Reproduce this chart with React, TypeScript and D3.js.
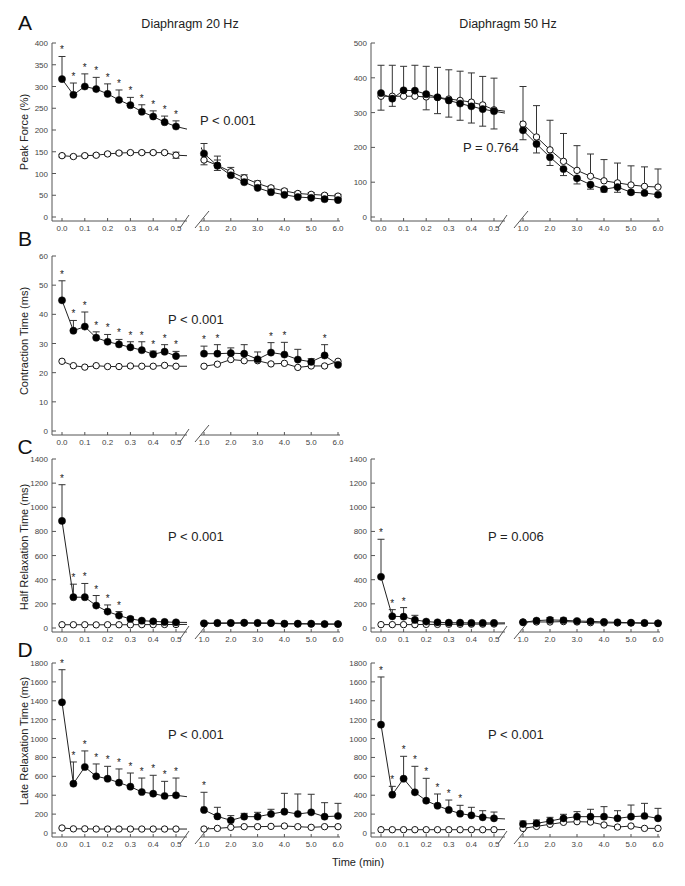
import { useEffect, useRef } from 'react';
import * as d3 from 'd3';

// time points (min): early phase then late phase
const timesEarly = [0, 0.05, 0.1, 0.15, 0.2, 0.25, 0.3, 0.35, 0.4, 0.45, 0.5];
const timesLate = [1, 1.5, 2, 2.5, 3, 3.5, 4, 4.5, 5, 5.5, 6];
const times = [...timesEarly, ...timesLate];

const earlyTicks = [0, 0.1, 0.2, 0.3, 0.4, 0.5];
const lateTicks = [1, 2, 3, 4, 5, 6];

// A - Peak force, 20 Hz
const filledA20 = [317, 281, 300, 294, 283, 269, 257, 242, 231, 218, 208, 146, 118, 96, 80, 67, 57, 51, 46, 44, 41, 39];
const filledErrA20 = [52, 27, 29, 27, 23, 23, 18, 16, 13, 14, 13, 23, 22, 5, 4, 4, 3, 3, 3, 3, 3, 3];
const openA20 = [141, 139, 141, 142, 145, 147, 148, 148, 148, 148, 142, 131, 119, 104, 90, 77, 67, 60, 54, 52, 50, 48];
const openErrA20 = [3, 3, 3, 3, 3, 3, 3, 3, 3, 3, 7, 11, 12, 10, 7, 6, 4, 4, 4, 4, 4, 4];
const starsA20 = [0, 0.05, 0.1, 0.15, 0.2, 0.25, 0.3, 0.35, 0.4, 0.45, 0.5];

// A - Peak force, 50 Hz
const filledA50 = [356, 340, 364, 363, 353, 344, 335, 326, 318, 310, 304, 249, 210, 172, 138, 111, 93, 80, 86, 71, 69, 64];
const filledErrA50 = [49, 22, 15, 15, 45, 47, 48, 48, 48, 49, 51, 27, 26, 24, 19, 16, 13, 8, 15, 5, 5, 5];
const openA50 = [347, 347, 347, 347, 345, 344, 339, 335, 330, 322, 308, 267, 230, 193, 160, 134, 117, 104, 98, 92, 88, 86];
const openErrA50 = [89, 89, 86, 89, 88, 86, 84, 84, 84, 82, 91, 108, 90, 85, 80, 71, 64, 61, 57, 55, 56, 52];

// B - Contraction time, 20 Hz
const filledB = [44.8, 34.4, 35.8, 32.0, 30.6, 29.7, 28.7, 27.7, 26.3, 27.2, 25.7, 26.5, 26.5, 26.7, 26.5, 24.6, 26.9, 26.2, 24.5, 23.7, 25.9, 22.7];
const filledErrB = [6.7, 3.5, 5.0, 2.0, 2.5, 1.7, 1.9, 2.9, 1.1, 2.4, 1.6, 2.6, 3.1, 1.8, 3.1, 2.5, 3.4, 4.2, 3.5, 1.1, 3.7, 0.5];
const openB = [23.9, 22.4, 21.9, 22.4, 22.1, 22.1, 22.3, 22.2, 22.2, 22.5, 22.2, 22.2, 22.9, 24.5, 24.1, 24.1, 23.0, 23.2, 21.8, 22.3, 22.3, 23.9];
const starsB = [0, 0.05, 0.1, 0.15, 0.2, 0.25, 0.3, 0.35, 0.4, 0.45, 0.5, 1, 1.5, 3.5, 4, 5.5];

// C - Half relaxation time
const filledC20 = [887, 255, 255, 186, 136, 103, 75, 61, 55, 50, 47, 39, 42, 42, 44, 42, 42, 36, 36, 36, 33, 33];
const filledErrC20 = [300, 108, 114, 83, 55, 33, 16, 8, 6, 5, 5, 5, 5, 5, 5, 5, 5, 4, 4, 4, 4, 4];
const openC20 = [27, 27, 27, 26, 27, 27, 27, 28, 28, 29, 29, 36, 38, 39, 40, 39, 38, 34, 34, 33, 32, 32];
const starsC20 = [0, 0.05, 0.1, 0.15, 0.2, 0.25];

const filledC50 = [424, 97, 94, 67, 53, 47, 44, 44, 42, 42, 42, 47, 61, 67, 64, 58, 55, 50, 47, 44, 42, 39];
const filledErrC50 = [311, 55, 75, 38, 10, 8, 6, 6, 6, 6, 6, 8, 12, 20, 18, 12, 14, 10, 6, 6, 5, 5];
const openC50 = [28, 28, 28, 28, 30, 30, 31, 31, 32, 32, 33, 50, 50, 50, 53, 50, 44, 42, 42, 42, 39, 39];
const starsC50 = [0, 0.05, 0.1];

// D - Late relaxation time
const filledD20 = [1384, 522, 699, 600, 575, 533, 491, 434, 416, 392, 399, 244, 176, 134, 173, 173, 201, 226, 201, 219, 173, 180];
const filledErrD20 = [345, 230, 170, 131, 131, 145, 144, 148, 195, 155, 183, 187, 96, 50, 35, 46, 50, 194, 212, 191, 148, 134];
const openD20 = [53, 44, 44, 42, 42, 42, 42, 42, 42, 42, 42, 42, 49, 60, 67, 67, 70, 74, 67, 60, 67, 67];
const starsD20 = [0, 0.05, 0.1, 0.15, 0.2, 0.25, 0.3, 0.35, 0.4, 0.45, 0.5, 1];

const filledD50 = [1147, 406, 575, 431, 342, 289, 244, 205, 187, 166, 155, 95, 102, 127, 155, 173, 173, 173, 155, 173, 180, 155];
const filledErrD50 = [505, 88, 237, 275, 237, 124, 105, 88, 85, 70, 67, 32, 36, 39, 43, 53, 78, 106, 81, 123, 134, 106];
const openD50 = [35, 35, 35, 35, 35, 35, 35, 35, 35, 35, 35, 49, 70, 92, 113, 120, 116, 85, 63, 74, 49, 49];
const starsD50 = [0, 0.05, 0.1, 0.15, 0.2, 0.25, 0.3, 0.35];

const W = 685;
const H = 886;
const FONT = '"Liberation Sans", Arial, Helvetica, sans-serif';

// x layout of the two columns (axis, early segment, late segment)
const cols = [
  { axisX: 52, e0: 62, e5: 176, eEnd: 187, l1: 204, l6: 338, lStart: 201, lEnd: 340 },
  { axisX: 371, e0: 381, e5: 494, eEnd: 505, l1: 523, l6: 658, lStart: 520, lEnd: 660 },
];

type Dir = 'up' | 'down' | 'both';
interface Series { mean: number[]; err?: number[]; dir?: Dir; open: boolean }
interface Panel {
  id: string;
  col: number;
  y0: number;
  yTop: number;
  yMax: number;
  yStep: number;
  pText: string;
  pX: number;
  pY: number;
  series: Series[];
  stars: number[];
}

const panels: Panel[] = [
  { id: 'a20', col: 0, y0: 217, yTop: 43, yMax: 400, yStep: 50, pText: 'P < 0.001', pX: 200, pY: 125,
    series: [{ mean: openA20, err: openErrA20, dir: 'both', open: true }, { mean: filledA20, err: filledErrA20, dir: 'up', open: false }],
    stars: starsA20 },
  { id: 'a50', col: 1, y0: 217, yTop: 43, yMax: 500, yStep: 100, pText: 'P = 0.764', pX: 463, pY: 152,
    series: [{ mean: openA50, err: openErrA50, dir: 'up', open: true }, { mean: filledA50, err: filledErrA50, dir: 'down', open: false }],
    stars: [] },
  { id: 'b20', col: 0, y0: 431, yTop: 256, yMax: 60, yStep: 10, pText: 'P < 0.001', pX: 168, pY: 324,
    series: [{ mean: openB, open: true }, { mean: filledB, err: filledErrB, dir: 'up', open: false }],
    stars: starsB },
  { id: 'c20', col: 0, y0: 628, yTop: 459, yMax: 1400, yStep: 200, pText: 'P < 0.001', pX: 168, pY: 541,
    series: [{ mean: openC20, open: true }, { mean: filledC20, err: filledErrC20, dir: 'up', open: false }],
    stars: starsC20 },
  { id: 'c50', col: 1, y0: 628, yTop: 459, yMax: 1400, yStep: 200, pText: 'P = 0.006', pX: 488, pY: 541,
    series: [{ mean: openC50, open: true }, { mean: filledC50, err: filledErrC50, dir: 'up', open: false }],
    stars: starsC50 },
  { id: 'd20', col: 0, y0: 833, yTop: 663, yMax: 1800, yStep: 200, pText: 'P < 0.001', pX: 168, pY: 739,
    series: [{ mean: openD20, open: true }, { mean: filledD20, err: filledErrD20, dir: 'up', open: false }],
    stars: starsD20 },
  { id: 'd50', col: 1, y0: 833, yTop: 663, yMax: 1800, yStep: 200, pText: 'P < 0.001', pX: 488, pY: 739,
    series: [{ mean: openD50, open: true }, { mean: filledD50, err: filledErrD50, dir: 'up', open: false }],
    stars: starsD50 },
];

const yLabels = [
  { text: 'Peak Force (%)', y: 132 },
  { text: 'Contraction Time (ms)', y: 341 },
  { text: 'Half Relaxation Time (ms)', y: 547 },
  { text: 'Late Relaxation Time (ms)', y: 741 },
];

const letters = [
  { text: 'A', y: 30 },
  { text: 'B', y: 246 },
  { text: 'C', y: 454 },
  { text: 'D', y: 657 },
];

export default function App() {
  const svgRef = useRef<SVGSVGElement>(null);

  useEffect(() => {
    if (!svgRef.current) return;
    const svg = d3.select(svgRef.current);
    svg.selectAll('*').remove();
    const defs = svg.append('defs');

    const ink = '#222';
    const grey = '#555';

    panels.forEach((p) => {
      const c = cols[p.col];
      const y = d3.scaleLinear().domain([0, p.yMax]).range([p.y0, p.yTop]);
      const xE = d3.scaleLinear().domain([0, 0.5]).range([c.e0, c.e5]);
      const xL = d3.scaleLinear().domain([1, 6]).range([c.l1, c.l6]);
      const xOf = (t: number) => (t <= 0.5 ? xE(t) : xL(t));
      const axisY = p.y0 + 4;
      const g = svg.append('g');

      // clip regions for the two halves of the broken axis
      defs.append('clipPath').attr('id', `ce-${p.id}`)
        .append('rect').attr('x', c.axisX).attr('y', 0).attr('width', c.eEnd - c.axisX).attr('height', H);
      defs.append('clipPath').attr('id', `cl-${p.id}`)
        .append('rect').attr('x', c.lStart).attr('y', 0).attr('width', c.lEnd - c.lStart + 6).attr('height', H);

      // y axis
      g.append('line')
        .attr('x1', c.axisX).attr('x2', c.axisX)
        .attr('y1', p.yTop).attr('y2', axisY)
        .attr('stroke', grey).attr('stroke-width', 1);
      const yTicks = d3.range(0, p.yMax + p.yStep / 2, p.yStep);
      yTicks.forEach((v) => {
        g.append('line')
          .attr('x1', c.axisX).attr('x2', c.axisX + 4)
          .attr('y1', y(v)).attr('y2', y(v))
          .attr('stroke', grey);
        g.append('text')
          .attr('x', c.axisX - 4).attr('y', y(v) + 3)
          .attr('text-anchor', 'end')
          .attr('font-size', 8).attr('fill', '#444')
          .attr('font-family', FONT)
          .text(d3.format('d')(v));
      });

      // x axis, two segments
      g.append('line').attr('x1', c.axisX).attr('x2', c.eEnd).attr('y1', axisY).attr('y2', axisY).attr('stroke', grey);
      g.append('line').attr('x1', c.lStart).attr('x2', c.lEnd).attr('y1', axisY).attr('y2', axisY).attr('stroke', grey);
      // break marks
      g.append('line').attr('x1', c.eEnd - 7).attr('y1', axisY + 7).attr('x2', c.eEnd + 2).attr('y2', axisY - 6).attr('stroke', grey);
      g.append('line').attr('x1', c.lStart - 6).attr('y1', axisY + 7).attr('x2', c.lStart + 8).attr('y2', axisY - 10).attr('stroke', grey);

      const tickLabel = d3.format('.1f');
      [...earlyTicks.map((t) => xE(t)), ...lateTicks.map((t) => xL(t))].forEach((xx, i) => {
        g.append('line').attr('x1', xx).attr('x2', xx).attr('y1', axisY).attr('y2', axisY - 3).attr('stroke', grey);
        const t = i < earlyTicks.length ? earlyTicks[i] : lateTicks[i - earlyTicks.length];
        g.append('text')
          .attr('x', xx).attr('y', axisY + 10)
          .attr('text-anchor', 'middle')
          .attr('font-size', 8).attr('fill', '#444')
          .attr('font-family', FONT)
          .text(tickLabel(t));
      });

      // connecting lines, drawn in each segment's own scale and clipped
      p.series.forEach((s) => {
        const pts = times.map((t, i) => [t, s.mean[i]] as [number, number]);
        g.append('path')
          .attr('d', d3.line<[number, number]>().x((d) => xE(d[0])).y((d) => y(d[1]))(pts))
          .attr('fill', 'none').attr('stroke', ink).attr('stroke-width', 1)
          .attr('clip-path', `url(#ce-${p.id})`);
        g.append('path')
          .attr('d', d3.line<[number, number]>().x((d) => xL(d[0])).y((d) => y(d[1]))(pts))
          .attr('fill', 'none').attr('stroke', ink).attr('stroke-width', 1)
          .attr('clip-path', `url(#cl-${p.id})`);
      });

      // error bars
      p.series.forEach((s) => {
        if (!s.err) return;
        times.forEach((t, i) => {
          const xx = xOf(t);
          const m = s.mean[i];
          const e = s.err![i];
          const ends: number[] = [];
          if (s.dir === 'up' || s.dir === 'both') ends.push(m + e);
          if (s.dir === 'down' || s.dir === 'both') ends.push(m - e);
          ends.forEach((v) => {
            g.append('line').attr('x1', xx).attr('x2', xx).attr('y1', y(m)).attr('y2', y(v))
              .attr('stroke', '#333').attr('stroke-width', 1);
            g.append('line').attr('x1', xx - 3.5).attr('x2', xx + 3.5).attr('y1', y(v)).attr('y2', y(v))
              .attr('stroke', '#333').attr('stroke-width', 1);
          });
        });
      });

      // markers
      p.series.forEach((s) => {
        g.selectAll(null)
          .data(times)
          .enter()
          .append('circle')
          .attr('cx', (t) => xOf(t))
          .attr('cy', (_t, i) => y(s.mean[i]))
          .attr('r', s.open ? 3.2 : 3.6)
          .attr('fill', s.open ? '#fff' : '#000')
          .attr('stroke', '#111')
          .attr('stroke-width', s.open ? 1 : 0.5);
      });

      // significance stars above the filled series
      const filled = p.series.find((s) => !s.open)!;
      p.stars.forEach((t) => {
        const i = times.indexOf(t);
        const top = filled.mean[i] + (filled.err && filled.dir !== 'down' ? filled.err[i] : 0);
        g.append('text')
          .attr('x', xOf(t)).attr('y', y(top) - 3)
          .attr('text-anchor', 'middle')
          .attr('font-size', 10).attr('fill', ink)
          .attr('font-family', FONT)
          .text('*');
      });

      g.append('text')
        .attr('x', p.pX).attr('y', p.pY)
        .attr('font-size', 13).attr('fill', ink)
        .attr('font-family', FONT)
        .text(p.pText);
    });

    // titles, panel letters, axis titles
    [{ text: 'Diaphragm 20 Hz', x: 190 }, { text: 'Diaphragm 50 Hz', x: 508 }].forEach((tt) => {
      svg.append('text').attr('x', tt.x).attr('y', 28).attr('text-anchor', 'middle')
        .attr('font-size', 12.5).attr('fill', ink).attr('font-family', FONT).text(tt.text);
    });
    letters.forEach((l) => {
      svg.append('text').attr('x', 25).attr('y', l.y).attr('text-anchor', 'middle')
        .attr('font-size', 21).attr('fill', '#111').attr('font-family', FONT).text(l.text);
    });
    yLabels.forEach((l) => {
      svg.append('text')
        .attr('transform', `translate(28, ${l.y}) rotate(-90)`)
        .attr('text-anchor', 'middle')
        .attr('font-size', 11).attr('fill', ink).attr('font-family', FONT)
        .text(l.text);
    });
    svg.append('text').attr('x', 358).attr('y', 866).attr('text-anchor', 'middle')
      .attr('font-size', 11).attr('fill', ink).attr('font-family', FONT).text('Time (min)');
  }, []);

  return (
    <svg
      ref={svgRef}
      width={W}
      height={H}
      viewBox={`0 0 ${W} ${H}`}
      style={{ position: 'absolute', left: 0, top: 0, background: '#fff' }}
    />
  );
}
